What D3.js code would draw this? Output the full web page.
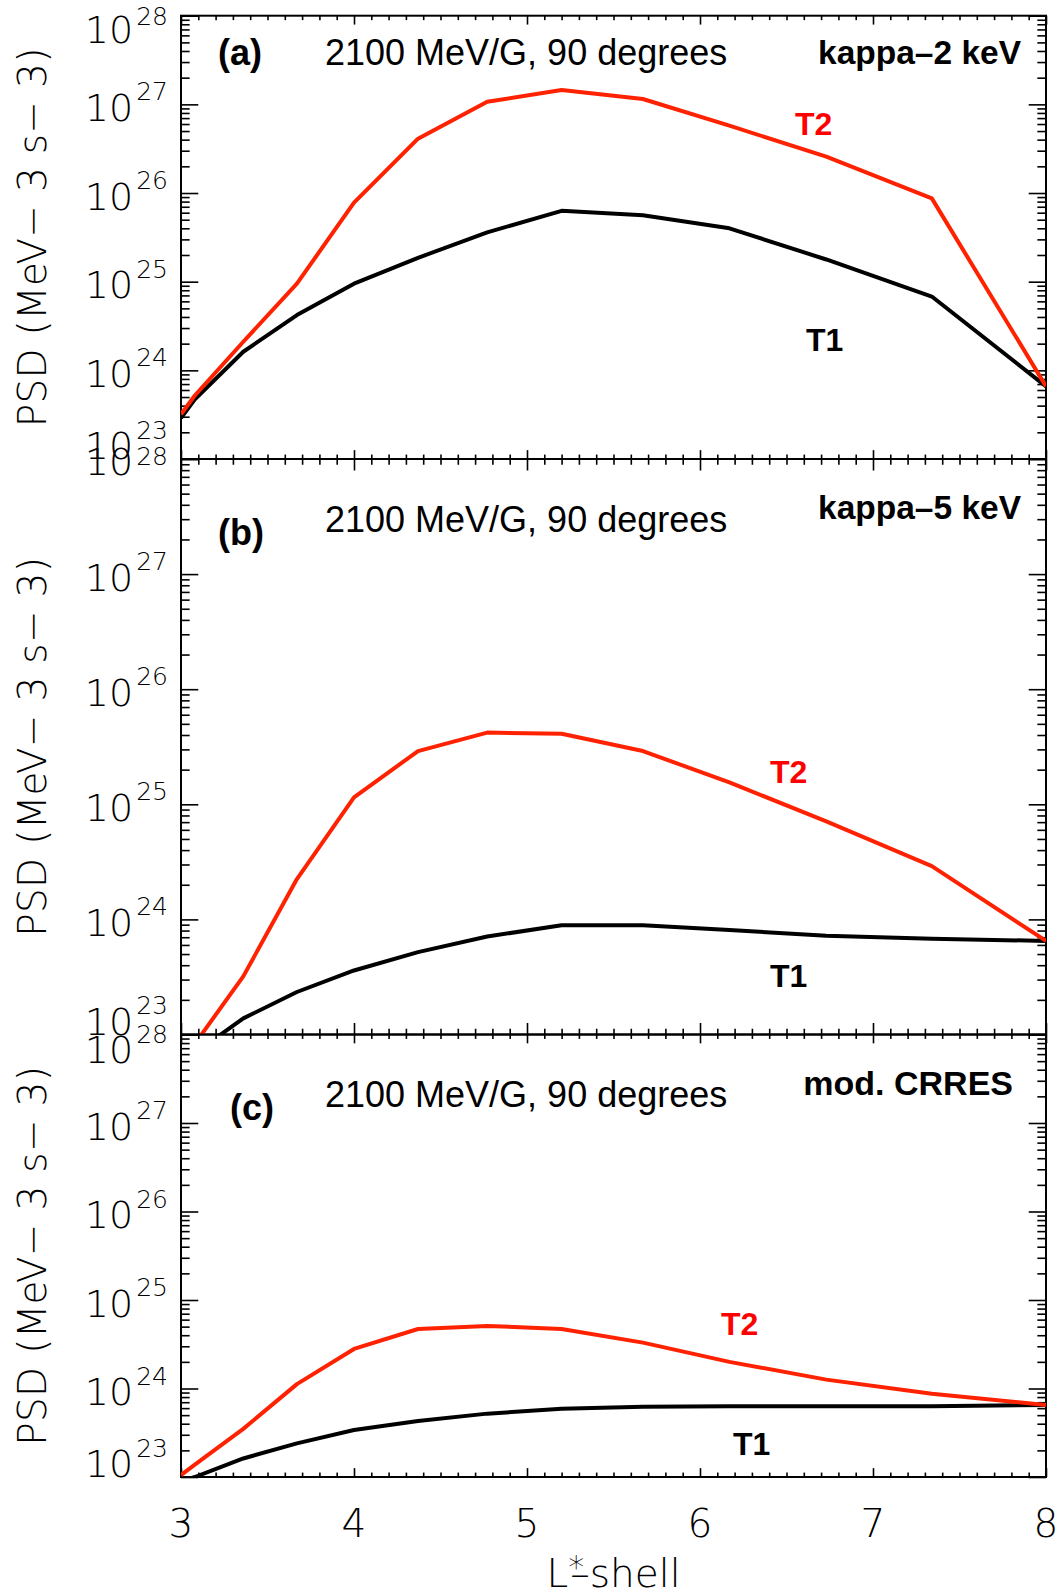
<!DOCTYPE html>
<html>
<head>
<meta charset="utf-8">
<script src="https://cdn.jsdelivr.net/npm/d3@7"></script>
<style>
  html, body { margin: 0; padding: 0; background: #fff; }
  svg { display: block; }
  .thin { font-family: "DejaVu Sans", sans-serif; font-weight: 200; }
  .arial { font-family: "Liberation Sans", Arial, sans-serif; }
</style>
</head>
<body>
<svg id="chart" width="1060" height="1594"></svg>
<script>
// ---------------- data ----------------
const lShell = [3.0, 3.08, 3.36, 3.67, 4.0, 4.37, 4.77, 5.2, 5.67, 6.17, 6.73, 7.34, 8.0];

const panelLetters = ["(a)", "(b)", "(c)"];
const panelTitles = ["2100 MeV/G, 90 degrees", "2100 MeV/G, 90 degrees", "2100 MeV/G, 90 degrees"];
const panelModels = ["kappa\u20132 keV", "kappa\u20135 keV", "mod. CRRES"];
const seriesNames = ["T1", "T2"];

const psdA_T1 = [2.9e23, 4.7e23, 1.62e24, 4.2e24, 9.5e24, 1.86e25, 3.6e25, 6.3e25, 5.6e25, 4.0e25, 1.78e25, 6.8e24, 6.6e23];
const psdA_T2 = [3.2e23, 5.2e23, 2.1e24, 9.5e24, 7.8e25, 4.1e26, 1.07e27, 1.45e27, 1.15e27, 5.75e26, 2.57e26, 8.7e25, 6.6e23];
const psdB_T1 = [5.6e22, 6.9e22, 1.38e23, 2.34e23, 3.6e23, 5.2e23, 7.1e23, 8.9e23, 8.9e23, 8.1e23, 7.2e23, 6.8e23, 6.5e23];
const psdB_T2 = [5.0e22, 8.3e22, 3.2e23, 2.24e24, 1.15e25, 2.9e25, 4.2e25, 4.1e25, 2.9e25, 1.55e25, 7.1e24, 2.9e24, 6.5e23];
const psdC_T1 = [8.9e22, 1.0e23, 1.62e23, 2.4e23, 3.4e23, 4.3e23, 5.2e23, 5.9e23, 6.2e23, 6.3e23, 6.3e23, 6.3e23, 6.5e23];
const psdC_T2 = [1.05e23, 1.38e23, 3.5e23, 1.12e24, 2.8e24, 4.7e24, 5.1e24, 4.7e24, 3.3e24, 2.0e24, 1.26e24, 8.7e23, 6.5e23];

const xTickValues = [3, 4, 5, 6, 7, 8];
const yExponents = [23, 24, 25, 26, 27, 28];
const xLabel = ["L", "*", "\u2013shell"];
const yLabel = "PSD (MeV\u2212 3 s\u2212 3)";

// ---------------- layout ----------------
const svg = d3.select("#chart");
const left = 181, right = 1046;
const panels = [
  { top: 15.7, bottom: 459, t1: psdA_T1, t2: psdA_T2, topLab: 27.6, topExp: 18.3,
    letter: { x: 218, y: 65 }, title: { x: 325, y: 65 }, model: { x: 1021, y: 63.5 },
    lab2: { x: 795, y: 135 }, lab1: { x: 806, y: 351 } },
  { top: 459, bottom: 1034.5, t1: psdB_T1, t2: psdB_T2, topLab: 16, topExp: 10,
    letter: { x: 218, y: 545 }, title: { x: 325, y: 531.5 }, model: { x: 1021, y: 519 },
    lab2: { x: 770, y: 783 }, lab1: { x: 770, y: 987 } },
  { top: 1034.5, bottom: 1477, t1: psdC_T1, t2: psdC_T2, topLab: 28, topExp: 20,
    letter: { x: 230, y: 1120 }, title: { x: 325, y: 1107 }, model: { x: 1013, y: 1094.5 },
    lab2: { x: 721, y: 1335 }, lab1: { x: 733, y: 1454.5 } }
];

const x = d3.scaleLinear().domain([3, 8]).range([left, right]);
const xMinor = d3.range(30, 81).map(d => d / 10).filter(v => Math.abs(v - Math.round(v)) > 1e-6);

const yMajor = yExponents.map(e => Math.pow(10, e));
const yMinor = [];
yExponents.slice(0, -1).forEach(e => { for (let k = 2; k <= 9; k++) yMinor.push(k * Math.pow(10, e)); });

const redLine = "#ff2200";

panels.forEach((p, i) => {
  const h = p.bottom - p.top;
  const y = d3.scaleLog().domain([1e23, 1e28]).range([p.bottom, p.top]);
  const g = svg.append("g");

  const clipId = "clip" + i;
  svg.append("clipPath").attr("id", clipId)
    .append("rect").attr("x", left).attr("y", p.top).attr("width", right - left).attr("height", h);

  const xMajLen = 0.02 * h, xMinLen = 0.01 * h;
  const yMajLen = 0.02 * (right - left), yMinLen = 0.01 * (right - left);

  const styleAxis = sel => {
    sel.select(".domain").remove();
    sel.selectAll("line").attr("stroke", "#000").attr("stroke-width", 1.6);
    sel.selectAll("text").remove();
  };

  g.append("g").attr("transform", `translate(0,${p.top})`)
    .call(d3.axisBottom(x).tickValues(xTickValues).tickSize(xMajLen).tickSizeOuter(0)).call(styleAxis);
  g.append("g").attr("transform", `translate(0,${p.top})`)
    .call(d3.axisBottom(x).tickValues(xMinor).tickSize(xMinLen).tickSizeOuter(0)).call(styleAxis);
  g.append("g").attr("transform", `translate(0,${p.bottom})`)
    .call(d3.axisTop(x).tickValues(xTickValues).tickSize(xMajLen).tickSizeOuter(0)).call(styleAxis);
  g.append("g").attr("transform", `translate(0,${p.bottom})`)
    .call(d3.axisTop(x).tickValues(xMinor).tickSize(xMinLen).tickSizeOuter(0)).call(styleAxis);
  g.append("g").attr("transform", `translate(${left},0)`)
    .call(d3.axisRight(y).tickValues(yMajor).tickSize(yMajLen).tickSizeOuter(0)).call(styleAxis);
  g.append("g").attr("transform", `translate(${left},0)`)
    .call(d3.axisRight(y).tickValues(yMinor).tickSize(yMinLen).tickSizeOuter(0)).call(styleAxis);
  g.append("g").attr("transform", `translate(${right},0)`)
    .call(d3.axisLeft(y).tickValues(yMajor).tickSize(yMajLen).tickSizeOuter(0)).call(styleAxis);
  g.append("g").attr("transform", `translate(${right},0)`)
    .call(d3.axisLeft(y).tickValues(yMinor).tickSize(yMinLen).tickSizeOuter(0)).call(styleAxis);

  g.append("rect").attr("x", left).attr("y", p.top).attr("width", right - left).attr("height", h)
    .attr("fill", "none").attr("stroke", "#000").attr("stroke-width", 2);

  // y tick labels 10^n (end labels pulled inside the axis range)
  yExponents.forEach((e, k) => {
    const yy = y(Math.pow(10, e));
    let base = yy + 16.5, expUp = 20.5;
    if (k === 0) { base = yy; expUp = 20.5; }
    if (k === yExponents.length - 1) { base = yy + p.topLab; expUp = p.topExp; }
    const t = svg.append("text").attr("class", "thin").attr("x", 168).attr("y", base)
      .attr("text-anchor", "end").attr("font-size", 38).attr("fill", "#000");
    t.append("tspan").text("10");
    t.append("tspan").attr("dx", 3).attr("dy", -expUp).attr("font-size", 25).text(String(e));
  });

  svg.append("text").attr("class", "thin")
    .attr("transform", `translate(46,${(p.top + p.bottom) / 2}) rotate(-90)`)
    .attr("text-anchor", "middle").attr("font-size", 39).attr("fill", "#000")
    .attr("letter-spacing", 0.3)
    .text(yLabel);

  const line = d3.line().x((d, j) => x(lShell[j])).y(d => y(d));
  const lg = g.append("g").attr("clip-path", `url(#${clipId})`);
  lg.append("path").datum(p.t1).attr("d", line).attr("fill", "none")
    .attr("stroke", "#000").attr("stroke-width", 4).attr("stroke-linejoin", "round");
  lg.append("path").datum(p.t2).attr("d", line).attr("fill", "none")
    .attr("stroke", redLine).attr("stroke-width", 4).attr("stroke-linejoin", "round");

  svg.append("text").attr("class", "arial").attr("x", p.letter.x).attr("y", p.letter.y)
    .attr("font-size", 36).attr("font-weight", "bold").text(panelLetters[i]);
  svg.append("text").attr("class", "arial").attr("x", p.title.x).attr("y", p.title.y)
    .attr("font-size", 36).text(panelTitles[i]);
  svg.append("text").attr("class", "arial").attr("x", p.model.x).attr("y", p.model.y)
    .attr("text-anchor", "end").attr("font-size", i === 2 ? 34 : 33.5).attr("font-weight", "bold").text(panelModels[i]);
  svg.append("text").attr("class", "arial").attr("x", p.lab2.x).attr("y", p.lab2.y)
    .attr("font-size", 32).attr("font-weight", "bold").attr("fill", "#ff0000").text(seriesNames[1]);
  svg.append("text").attr("class", "arial").attr("x", p.lab1.x).attr("y", p.lab1.y)
    .attr("font-size", 32).attr("font-weight", "bold").attr("fill", "#000").text(seriesNames[0]);
});

svg.append("g").selectAll("text").data(xTickValues).join("text")
  .attr("class", "thin").attr("x", d => x(d)).attr("y", 1537)
  .attr("text-anchor", "middle").attr("font-size", 39).attr("fill", "#000")
  .text(d => d);

const xt = svg.append("text").attr("class", "thin").attr("x", (left + right) / 2).attr("y", 1587)
  .attr("text-anchor", "middle").attr("font-size", 39).attr("fill", "#000");
xt.append("tspan").text(xLabel[0]);
xt.append("tspan").attr("font-size", 32).attr("dy", -9).text(xLabel[1]);
xt.append("tspan").attr("dx", -14).attr("dy", 9).text(xLabel[2]);
</script>
</body>
</html>
